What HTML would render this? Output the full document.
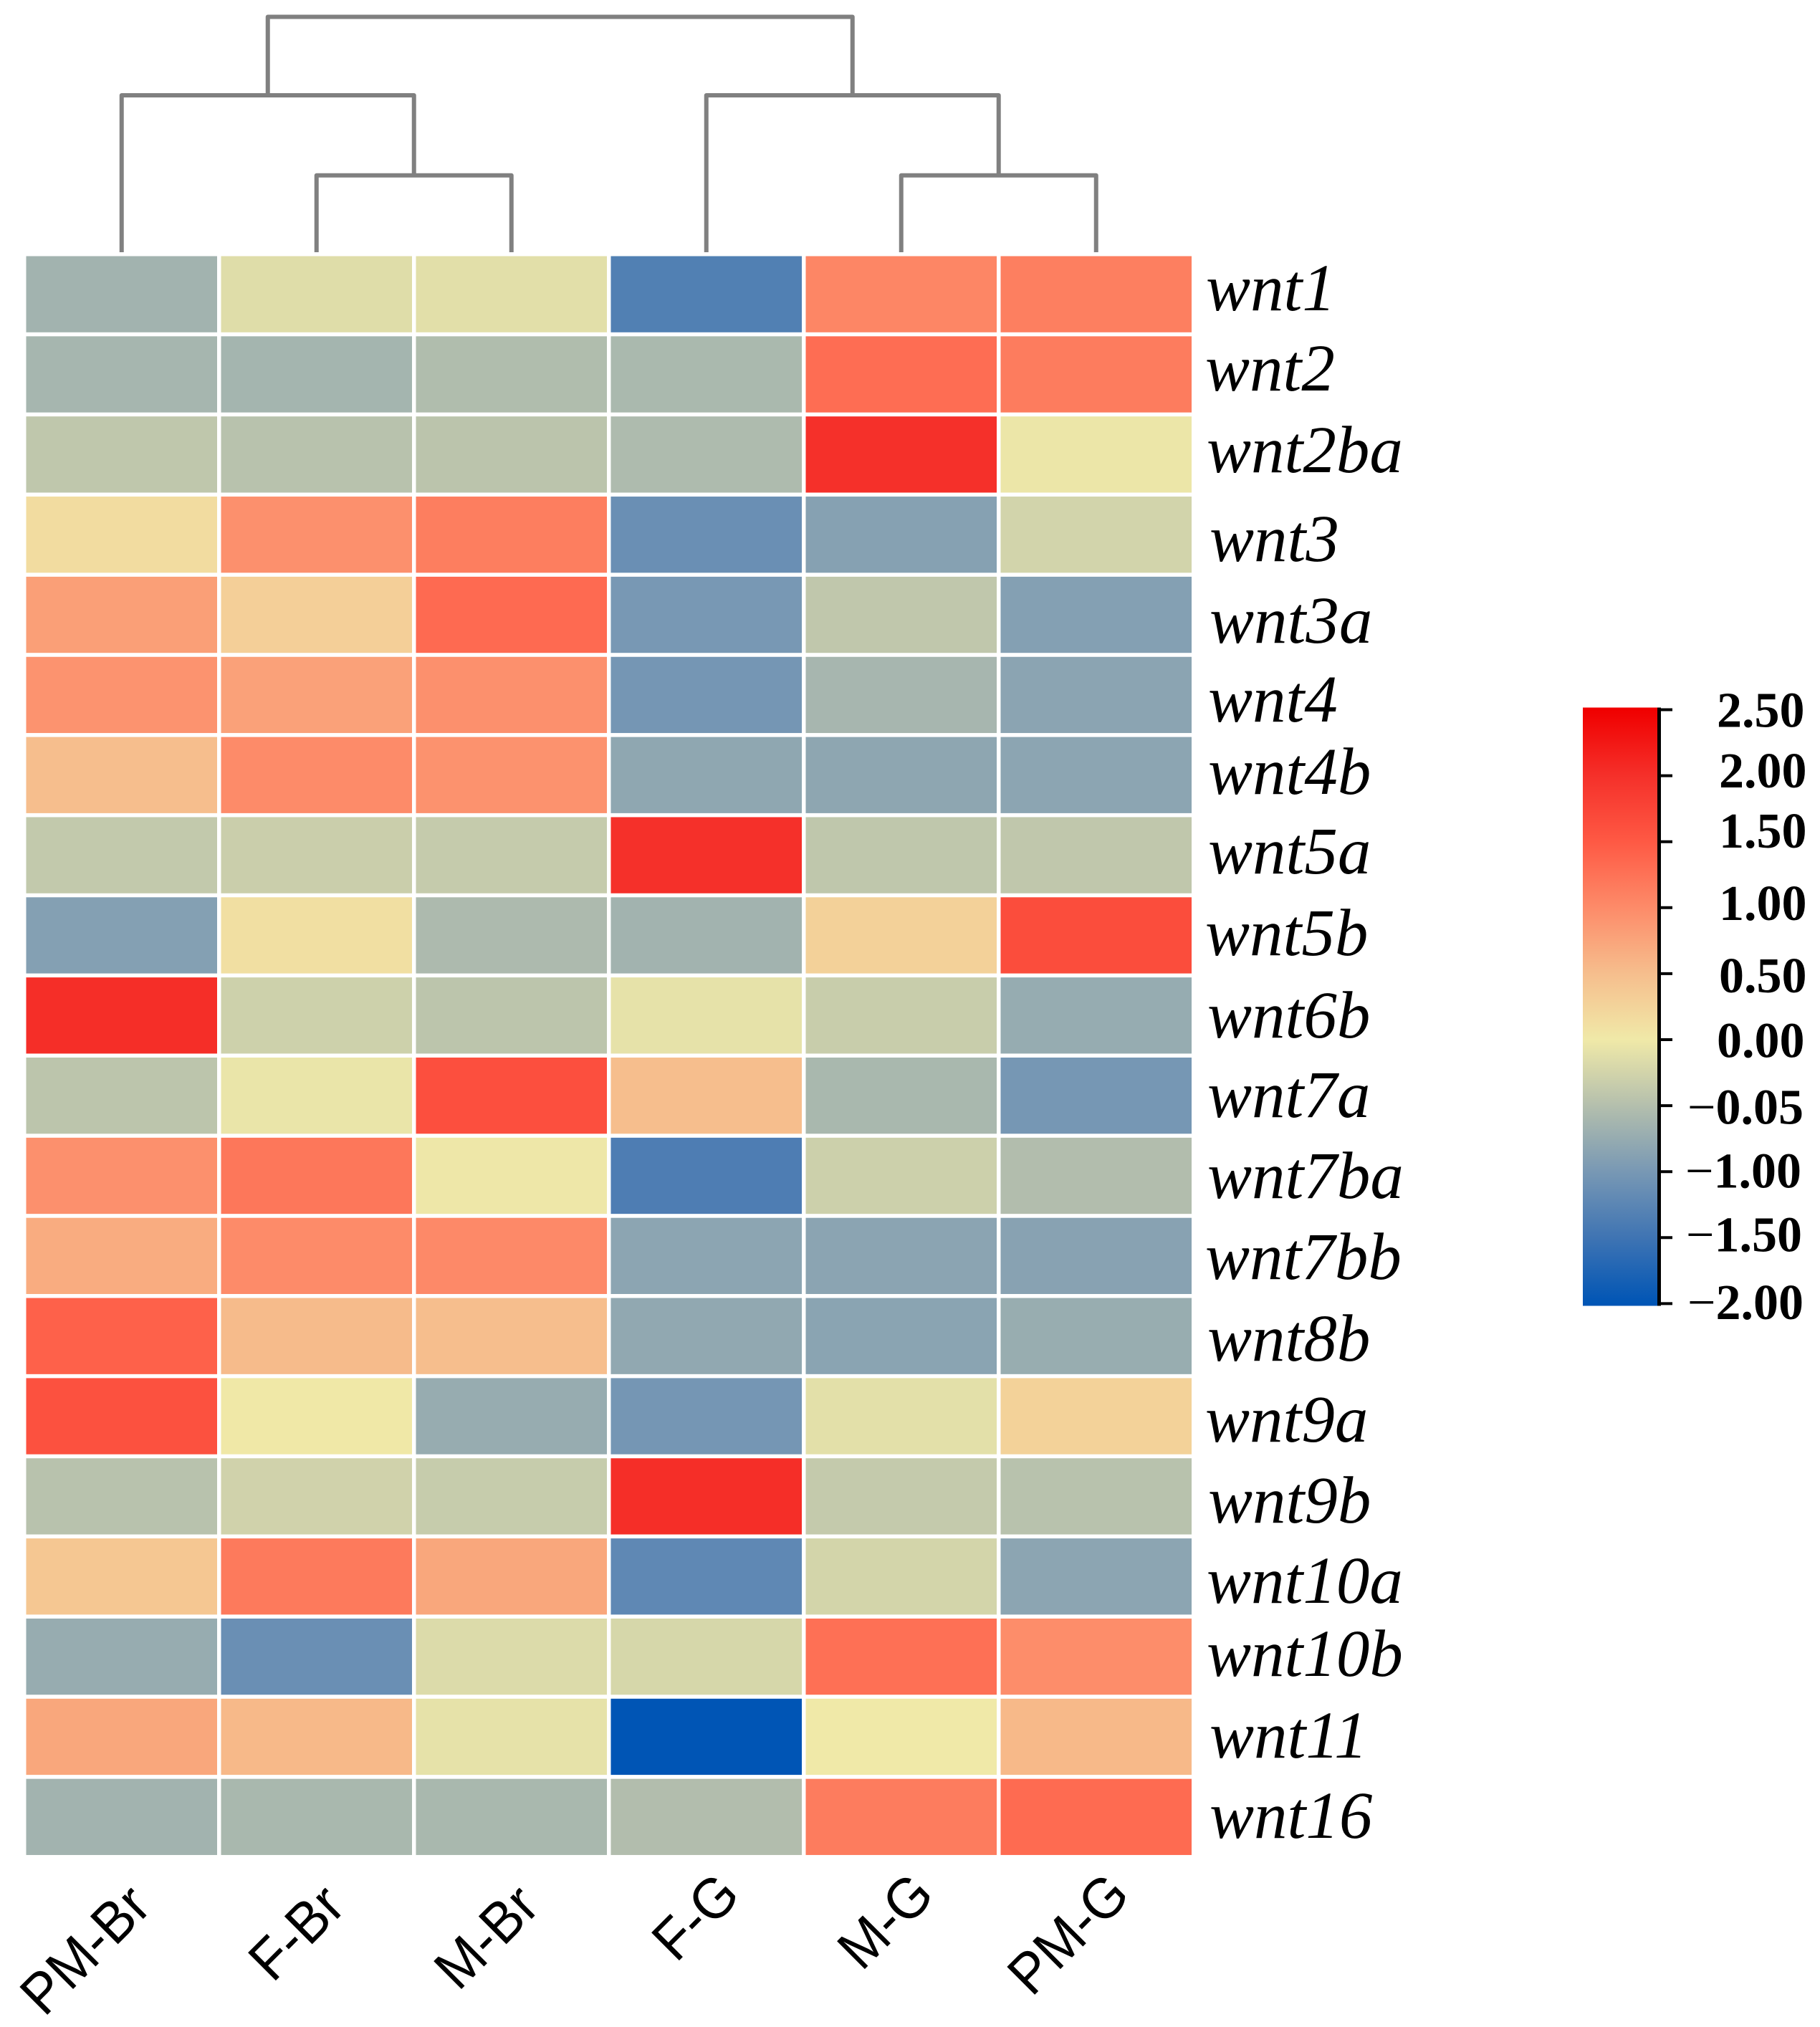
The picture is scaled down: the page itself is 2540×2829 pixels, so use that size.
<!DOCTYPE html>
<html lang="en">
<head>
<meta charset="utf-8">
<title>Wnt gene expression heatmap</title>
<style>
  html, body { margin: 0; padding: 0; background: #ffffff; }
  svg { display: block; }
  .row-label { font-family: "Liberation Serif", serif; font-style: italic; font-size: 93px; fill: #000; }
  .col-label { font-family: "Liberation Sans", sans-serif; font-size: 76px; fill: #000; text-anchor: end; }
  .cb-label { font-family: "Liberation Serif", serif; font-weight: bold; font-size: 70px; fill: #000; }
  .cb-label tspan { font-weight: normal; }
</style>
</head>
<body>
<svg id="chart" xmlns="http://www.w3.org/2000/svg" width="2540" height="2829" viewBox="0 0 2540 2829">
  <rect x="0" y="0" width="2540" height="2829" fill="#ffffff"/>
  <defs>
    <linearGradient id="cb-gradient" x1="0" y1="0" x2="0" y2="1"></linearGradient>
  </defs>
  <g id="dendrogram"></g>
  <g id="cells"></g>

  <g>
    <text class="row-label" x="1683" y="433">wnt1</text>
    <text class="row-label" x="1682" y="545">wnt2</text>
    <text class="row-label" x="1684" y="659">wnt2ba</text>
    <text class="row-label" x="1688" y="783">wnt3</text>
    <text class="row-label" x="1688" y="897">wnt3a</text>
    <text class="row-label" x="1686" y="1007">wnt4</text>
    <text class="row-label" x="1686" y="1108">wnt4b</text>
    <text class="row-label" x="1686" y="1219">wnt5a</text>
    <text class="row-label" x="1682" y="1333">wnt5b</text>
    <text class="row-label" x="1685" y="1448">wnt6b</text>
    <text class="row-label" x="1685" y="1559">wnt7a</text>
    <text class="row-label" x="1685" y="1672">wnt7ba</text>
    <text class="row-label" x="1682" y="1785">wnt7bb</text>
    <text class="row-label" x="1685" y="1899">wnt8b</text>
    <text class="row-label" x="1682" y="2012">wnt9a</text>
    <text class="row-label" x="1686" y="2125">wnt9b</text>
    <text class="row-label" x="1684" y="2237">wnt10a</text>
    <text class="row-label" x="1684" y="2339">wnt10b</text>
    <text class="row-label" x="1688" y="2453">wnt11</text>
    <text class="row-label" x="1688" y="2565">wnt16</text>
  </g>

  <g>
    <text class="col-label" transform="translate(214 2664) rotate(-45) scale(1 1.05)">PM-Br</text>
    <text class="col-label" transform="translate(485 2664) rotate(-45) scale(1 1.05)">F-Br</text>
    <text class="col-label" transform="translate(756 2664) rotate(-45) scale(1 1.05)">M-Br</text>
    <text class="col-label" transform="translate(1036 2648) rotate(-45) scale(1 1.05)">F-G</text>
    <text class="col-label" transform="translate(1307 2648) rotate(-45) scale(1 1.05)">M-G</text>
    <text class="col-label" transform="translate(1580 2648) rotate(-45) scale(1 1.05)">PM-G</text>
  </g>

  <g id="colorbar">
    <rect x="2209" y="987.5" width="104" height="835" fill="url(#cb-gradient)"/>
    <rect x="2313" y="987.5" width="5" height="835" fill="#000"/>
  </g>

  <g>
    <text class="cb-label" x="2396" y="1014.5">2.50</text>
    <text class="cb-label" x="2399" y="1099">2.00</text>
    <text class="cb-label" x="2399" y="1183">1.50</text>
    <text class="cb-label" x="2399" y="1284">1.00</text>
    <text class="cb-label" x="2399" y="1385">0.50</text>
    <text class="cb-label" x="2396" y="1475.5">0.00</text>
    <text class="cb-label" x="2355" y="1568.5"><tspan>−</tspan>0.05</text>
    <text class="cb-label" x="2352" y="1657.5"><tspan>−</tspan>1.00</text>
    <text class="cb-label" x="2353" y="1746.5"><tspan>−</tspan>1.50</text>
    <text class="cb-label" x="2355" y="1841"><tspan>−</tspan>2.00</text>
  </g>
</svg>

<script>
// ---- Data ----
const columns = ["PM-Br", "F-Br", "M-Br", "F-G", "M-G", "PM-G"];
const genes = ["wnt1", "wnt2", "wnt2ba", "wnt3", "wnt3a", "wnt4", "wnt4b", "wnt5a", "wnt5b", "wnt6b",
               "wnt7a", "wnt7ba", "wnt7bb", "wnt8b", "wnt9a", "wnt9b", "wnt10a", "wnt10b", "wnt11", "wnt16"];
const wnt1 = [-0.65, -0.14, -0.12, -1.34, 1.05, 1.12];
const wnt2 = [-0.62, -0.63, -0.53, -0.58, 1.30, 1.15];
const wnt2ba = [-0.41, -0.47, -0.44, -0.55, 2.00, -0.03];
const wnt3 = [0.15, 0.95, 1.13, -1.12, -0.88, -0.25];
const wnt3a = [0.80, 0.30, 1.33, -1.00, -0.40, -0.90];
const wnt4 = [0.92, 0.78, 0.95, -1.03, -0.61, -0.84];
const wnt4b = [0.50, 1.00, 0.93, -0.81, -0.82, -0.83];
const wnt5a = [-0.38, -0.32, -0.36, 2.00, -0.41, -0.40];
const wnt5b = [-0.90, 0.12, -0.56, -0.65, 0.28, 1.65];
const wnt6b = [2.02, -0.29, -0.43, -0.08, -0.33, -0.75];
const wnt7a = [-0.43, -0.05, 1.62, 0.50, -0.59, -1.02];
const wnt7ba = [0.95, 1.20, -0.02, -1.37, -0.30, -0.52];
const wnt7bb = [0.68, 1.00, 1.02, -0.83, -0.84, -0.87];
const wnt8b = [1.42, 0.53, 0.50, -0.79, -0.85, -0.73];
const wnt9a = [1.60, 0.01, -0.74, -1.03, -0.11, 0.27];
const wnt9b = [-0.47, -0.27, -0.35, 2.02, -0.37, -0.47];
const wnt10a = [0.40, 1.17, 0.73, -1.22, -0.24, -0.83];
const wnt10b = [-0.74, -1.12, -0.17, -0.22, 1.27, 0.98];
const wnt11 = [0.73, 0.55, -0.08, -2.00, 0.00, 0.55];
const wnt16 = [-0.65, -0.59, -0.59, -0.52, 1.15, 1.32];
const matrix = [wnt1, wnt2, wnt2ba, wnt3, wnt3a, wnt4, wnt4b, wnt5a, wnt5b, wnt6b,
                wnt7a, wnt7ba, wnt7bb, wnt8b, wnt9a, wnt9b, wnt10a, wnt10b, wnt11, wnt16];
// dendrogram merges: [name, left child, right child, merge level]; numbers are leaves, strings name earlier merges
const merges = [
  ["a", 1, 2, 0.98],
  ["b", 4, 5, 0.98],
  ["c", 0, "a", 2],
  ["d", 3, "b", 2],
  ["root", "c", "d", 3]
];
const colorbarTicks = [2.5, 2, 1.5, 1, 0.5, 0, -0.5, -1, -1.5, -2];
const colorValues = [-2, -1.5, -1, -0.5, 0, 0.5, 1, 1.5, 2, 2.5];
const colorHex = ["#0055b5", "#3f74b3", "#7898b4", "#b4bfad", "#f0e9a8", "#f6be8d", "#fd8b69", "#fe5944", "#f5302a", "#f00000"];

// ---- Axis functions ----
const NS = "http://www.w3.org/2000/svg";
const xScale = i => 36.5 + i * 272;
const yScale = i => 357.5 + i * 111.85;
const cellW = 266.5;
const cellH = 106.3;
const leafX = i => xScale(i) + cellW / 2;
const levelY = l => 352 - l * 109.5;
const cbY = v => 1451 - v * 184.2;

function hexToRgb(h) {
  return [parseInt(h.slice(1, 3), 16), parseInt(h.slice(3, 5), 16), parseInt(h.slice(5, 7), 16)];
}
function colorFor(v) {
  const clamped = Math.max(colorValues[0], Math.min(colorValues[colorValues.length - 1], v));
  let i = 0;
  while (i < colorValues.length - 2 && clamped > colorValues[i + 1]) i++;
  const t = (clamped - colorValues[i]) / (colorValues[i + 1] - colorValues[i]);
  const a = hexToRgb(colorHex[i]);
  const b = hexToRgb(colorHex[i + 1]);
  const c = a.map((x, k) => Math.round(x + (b[k] - x) * t));
  return "rgb(" + c.join(",") + ")";
}

// ---- Heatmap cells ----
const cellsGroup = document.getElementById("cells");
matrix.forEach((row, r) => {
  row.forEach((value, c) => {
    const rect = document.createElementNS(NS, "rect");
    rect.setAttribute("x", xScale(c));
    rect.setAttribute("y", yScale(r));
    rect.setAttribute("width", cellW);
    rect.setAttribute("height", cellH);
    rect.setAttribute("fill", colorFor(value));
    
    
    cellsGroup.appendChild(rect);
  });
});

// ---- Dendrogram ----
const dendroGroup = document.getElementById("dendrogram");
const nodes = {};
function nodePos(ref) {
  if (typeof ref === "number") return { x: leafX(ref), level: 0 };
  return nodes[ref];
}
merges.forEach(m => {
  const left = nodePos(m[1]);
  const right = nodePos(m[2]);
  const level = m[3];
  const top = levelY(level);
  const d = "M" + left.x + " " + levelY(left.level) + "V" + top + "H" + right.x + "V" + levelY(right.level);
  const path = document.createElementNS(NS, "path");
  path.setAttribute("d", d);
  path.setAttribute("fill", "none");
  path.setAttribute("stroke", "#808080");
  path.setAttribute("stroke-width", "6");
  path.setAttribute("stroke-linejoin", "round");
  
  
  dendroGroup.appendChild(path);
  nodes[m[0]] = { x: (left.x + right.x) / 2, level: level };
});

// ---- Colorbar gradient and ticks ----
const gradient = document.getElementById("cb-gradient");
for (let i = colorValues.length - 1; i >= 0; i--) {
  const stop = document.createElementNS(NS, "stop");
  const offset = (cbY(colorValues[i]) - 987.5) / 835;
  stop.setAttribute("offset", Math.max(0, Math.min(1, offset)));
  stop.setAttribute("stop-color", colorHex[i]);
  gradient.appendChild(stop);
}
const cbGroup = document.getElementById("colorbar");
colorbarTicks.forEach(v => {
  const tick = document.createElementNS(NS, "line");
  tick.setAttribute("x1", 2316);
  tick.setAttribute("x2", 2334);
  tick.setAttribute("y1", cbY(v));
  tick.setAttribute("y2", cbY(v));
  tick.setAttribute("stroke", "#000");
  tick.setAttribute("stroke-width", "4");
  
  
  cbGroup.appendChild(tick);
});
</script>
</body>
</html>
